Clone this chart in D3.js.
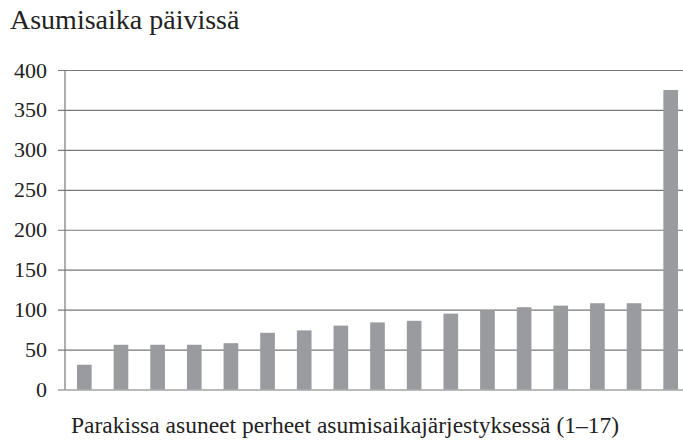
<!DOCTYPE html>
<html><head><meta charset="utf-8">
<script src="https://cdn.jsdelivr.net/npm/d3@7.9.0/dist/d3.min.js"></script></head>
<body style="margin:0">
<svg id="s" width="683" height="443"></svg>
<script>
/* ------------------------------- Data ------------------------------- */
const families = d3.range(1, 18).map(String);
const days = [31, 56, 56, 56, 58, 71, 74, 80, 84, 86, 95, 99, 103, 105, 108, 108, 375];
const yTicks = [0, 50, 100, 150, 200, 250, 300, 350, 400];

const yTitle = "Asumisaika päivissä";
const xTitle = "Parakissa asuneet perheet asumisaikajärjestyksessä (1–17)";

/* ------------------------------ Layout ------------------------------ */
const svg = d3.select("#s");
const plot = { left: 65, right: 689, top: 70, bottom: 389.5 };

const x = d3.scaleBand()
  .domain(families)
  .range([plot.left + 1, plot.right])
  .paddingInner(0.6)
  .paddingOuter(0.3);

const y = d3.scaleLinear()
  .domain([0, 400])
  .range([plot.bottom, plot.top]);

// gridlines + tick marks drawn by the axis, labels drawn separately
const yAxis = d3.axisLeft(y)
  .tickValues(yTicks)
  .tickSize(-(683 - plot.left))
  .tickFormat("");

const gy = svg.append("g")
  .attr("transform", `translate(${plot.left},0)`)
  .call(yAxis);

gy.select(".domain").remove();
gy.selectAll(".tick line")
  .attr("x1", -7)
  .attr("stroke", "#777")
  .attr("stroke-width", 1.2);

svg.append("g")
  .selectAll("text")
  .data(yTicks)
  .join("text")
  .attr("x", plot.left - 18)
  .attr("y", (d) => y(d) + 7.5)
  .attr("text-anchor", "end")
  .attr("font-family", "Liberation Serif")
  .attr("font-size", 22)
  .attr("fill", "#222")
  .text((d) => d);

// bars
svg.append("g")
  .selectAll("rect")
  .data(days)
  .join("rect")
  .attr("x", (d, i) => x(families[i]))
  .attr("width", x.bandwidth())
  .attr("y", (d) => y(d))
  .attr("height", (d) => y(0) - y(d))
  .attr("fill", "#9a9b9f");

// vertical axis line
svg.append("line")
  .attr("x1", plot.left).attr("x2", plot.left)
  .attr("y1", plot.top).attr("y2", plot.bottom)
  .attr("stroke", "#777")
  .attr("stroke-width", 1.2);

// titles
svg.append("g")
  .selectAll("text")
  .data([
    { t: yTitle, x: 10, y: 29, size: 28, anchor: "start" },
    { t: xTitle, x: 345, y: 433, size: 23.5, anchor: "middle" }
  ])
  .join("text")
  .attr("x", (d) => d.x)
  .attr("y", (d) => d.y)
  .attr("text-anchor", (d) => d.anchor)
  .attr("font-family", "Liberation Serif")
  .attr("font-size", (d) => d.size)
  .attr("fill", "#222")
  .text((d) => d.t);
</script></body></html>
